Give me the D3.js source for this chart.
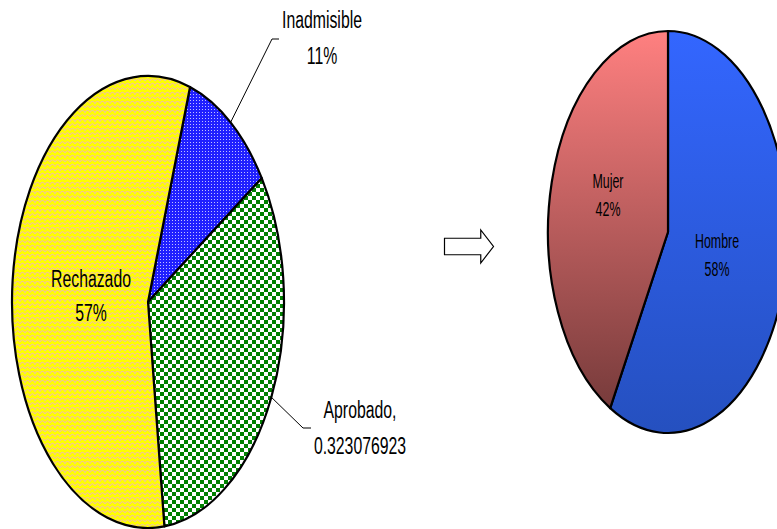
<!DOCTYPE html>
<html>
<head>
<meta charset="utf-8">
<script src="https://cdn.jsdelivr.net/npm/d3@7"></script>
<style>
html,body{margin:0;padding:0;background:#fff;}
svg{display:block;}
text{font-family:"Liberation Sans",Arial,sans-serif;fill:#000;}
</style>
</head>
<body>
<script>
// ---- data ----
const leftCategories = ["Inadmisible", "Aprobado", "Rechazado"];
const leftValues = [7, 21, 37];
const leftValueLabels = ["11%", "0.323076923", "57%"];
const leftSeparators = ["", ",", ""];
const rightCategories = ["Hombre", "Mujer"];
const rightValues = [58, 42];
const rightValueLabels = ["58%", "42%"];

const W = 777, H = 529;
const svg = d3.select("body").append("svg").attr("width", W).attr("height", H);
svg.append("rect").attr("width", W).attr("height", H).attr("fill", "#fff");
const defs = svg.append("defs");

// patterns
const pScale = defs.append("pattern").attr("id", "pScale").attr("patternUnits", "userSpaceOnUse")
  .attr("width", 10).attr("height", 9);
pScale.append("rect").attr("width", 10).attr("height", 9).attr("fill", "#ffff00");
pScale.append("path").attr("d", "M0,4.5 Q2.5,0 5,4.5 Q7.5,0 10,4.5 M-5,9 Q-2.5,4.5 0,9 M0,9 Q2.5,4.5 5,9 Q7.5,4.5 10,9 M5,0 Q7.5,-4.5 10,0")
  .attr("fill", "none").attr("stroke", "#f2c39a").attr("stroke-width", 1.1);

const pDots = defs.append("pattern").attr("id", "pDots").attr("patternUnits", "userSpaceOnUse")
  .attr("width", 3).attr("height", 3);
pDots.append("rect").attr("width", 3).attr("height", 3).attr("fill", "#2020ff");
pDots.append("rect").attr("x", 1).attr("y", 1).attr("width", 1).attr("height", 1).attr("fill", "#c0c0ff");

const pCheck = defs.append("pattern").attr("id", "pCheck").attr("patternUnits", "userSpaceOnUse")
  .attr("width", 8).attr("height", 8);
pCheck.append("rect").attr("width", 8).attr("height", 8).attr("fill", "#ffffff");
pCheck.append("rect").attr("width", 4).attr("height", 4).attr("fill", "#008000");
pCheck.append("rect").attr("x", 4).attr("y", 4).attr("width", 4).attr("height", 4).attr("fill", "#008000");

function grad(id, c0, c1) {
  const g = defs.append("linearGradient").attr("id", id).attr("x1", 0).attr("y1", 0).attr("x2", 0).attr("y2", 1);
  g.append("stop").attr("offset", "0%").attr("stop-color", c0);
  g.append("stop").attr("offset", "100%").attr("stop-color", c1);
}
grad("gHombre", "#3366ff", "#2550bf");
grad("gMujer", "#ff8080", "#773b3b");

// elliptical slice path from d3.pie angles
function ellPoint(cx, cy, rx, ry, a) { return [cx + rx * Math.sin(a), cy - ry * Math.cos(a)]; }
function ellSlice(cx, cy, rx, ry, d) {
  const p0 = ellPoint(cx, cy, rx, ry, d.startAngle), p1 = ellPoint(cx, cy, rx, ry, d.endAngle);
  const large = (d.endAngle - d.startAngle) > Math.PI ? 1 : 0;
  return `M${cx},${cy}L${p0[0]},${p0[1]}A${rx},${ry} 0 ${large} 1 ${p1[0]},${p1[1]}Z`;
}

// ---- left pie ----
const L = {cx: 148, cy: 302, rx: 136, ry: 226};
const leftFills = ["url(#pDots)", "url(#pCheck)", "url(#pScale)"];
const pieL = d3.pie().sort(null).startAngle(18 * Math.PI / 180).endAngle(18 * Math.PI / 180 + 2 * Math.PI);
const arcsL = pieL(leftValues);
svg.append("g").selectAll("path").data(arcsL).join("path")
  .attr("d", d => ellSlice(L.cx, L.cy, L.rx, L.ry, d))
  .attr("fill", (d, i) => leftFills[i])
  .attr("stroke", "#000").attr("stroke-width", 2.2).attr("stroke-linejoin", "round");

// label layout (baseline positions)
const leftLabelPos = [
  {x: 322, y1: 28, y2: 64, elbow: [279, 39], knee: [272, 39]},
  {x: 360, y1: 418, y2: 454, elbow: [311, 428], knee: [303, 428]},
  {x: 91, y1: 287, y2: 321}
];
const lfs = 15.8, lsy = 1.47;
arcsL.forEach((d, i) => {
  const pos = leftLabelPos[i];
  if (pos.elbow) {
    const mid = (d.startAngle + d.endAngle) / 2;
    const p = ellPoint(L.cx, L.cy, L.rx, L.ry, mid);
    svg.append("path").attr("d", d3.line()([p, pos.knee, pos.elbow]))
      .attr("fill", "none").attr("stroke", "#000").attr("stroke-width", 1);
  }
  svg.append("text").attr("transform", `translate(${pos.x},${pos.y1}) scale(1,${lsy})`)
    .attr("text-anchor", "middle").attr("font-size", lfs).text(leftCategories[i] + leftSeparators[i]);
  svg.append("text").attr("transform", `translate(${pos.x},${pos.y2}) scale(1,${lsy})`)
    .attr("text-anchor", "middle").attr("font-size", lfs).text(leftValueLabels[i]);
});

// ---- arrow ----
const ax = d3.scaleLinear().domain([0, 1]).range([444.5, 493.5]);
const ay = d3.scaleLinear().domain([-1, 1]).range([230, 263]);
const arrowPts = [[0, -0.5], [0.74, -0.5], [0.74, -1], [1, 0], [0.74, 1], [0.74, 0.5], [0, 0.5]];
svg.append("path").attr("d", d3.line().x(p => ax(p[0])).y(p => ay(p[1]))(arrowPts) + "Z")
  .attr("fill", "#fff").attr("stroke", "#000").attr("stroke-width", 1.2);

// ---- right pie ----
const R = {cx: 668, cy: 232, rx: 120, ry: 201};
const rightFills = ["url(#gHombre)", "url(#gMujer)"];
const pieR = d3.pie().sort(null);
const arcsR = pieR(rightValues);
svg.append("g").selectAll("path").data(arcsR).join("path")
  .attr("d", d => ellSlice(R.cx, R.cy, R.rx, R.ry, d))
  .attr("fill", (d, i) => rightFills[i])
  .attr("stroke", "#000").attr("stroke-width", 2.2).attr("stroke-linejoin", "round");

const rightLabelPos = [{x: 717, y1: 248, y2: 276}, {x: 608, y1: 188, y2: 216}];
const rfs = 12.4, rsy = 1.6;
arcsR.forEach((d, i) => {
  const pos = rightLabelPos[i];
  svg.append("text").attr("transform", `translate(${pos.x},${pos.y1}) scale(1,${rsy})`)
    .attr("text-anchor", "middle").attr("font-size", rfs).text(rightCategories[i]);
  svg.append("text").attr("transform", `translate(${pos.x},${pos.y2}) scale(1,${rsy})`)
    .attr("text-anchor", "middle").attr("font-size", rfs).text(rightValueLabels[i]);
});
</script>
</body>
</html>
